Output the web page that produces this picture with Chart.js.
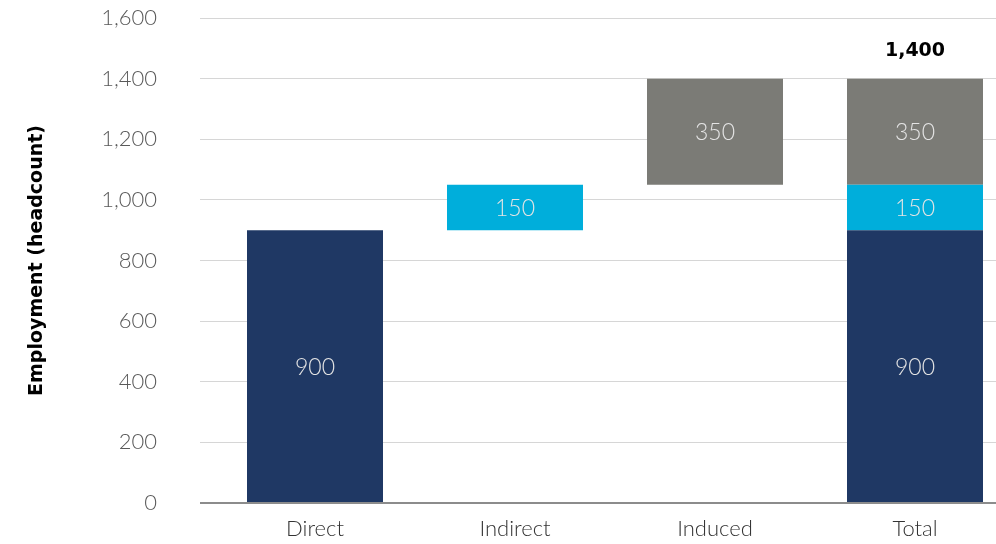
<!DOCTYPE html>
<html>
<head>
<meta charset="utf-8">
<script src="https://cdn.jsdelivr.net/npm/chart.js@4/dist/chart.umd.min.js"></script>
<style>
  html, body { margin: 0; padding: 0; background: #fff; overflow: hidden; }
  #wrap { position: absolute; left: 0; top: 0; width: 996px; height: 544px; overflow: hidden; }
  #chart { display: block; width: 1016px; height: 544px; }
</style>
</head>
<body>
<div id="wrap"><canvas id="chart" width="1016" height="544"></canvas></div>
<script>
const categories = ["Direct", "Indirect", "Induced", "Total"];
const directValue = 900;
const indirectValue = 150;
const inducedValue = 350;
const totalValue = directValue + indirectValue + inducedValue;
const yTicks = [0, 200, 400, 600, 800, 1000, 1200, 1400, 1600];

const FONT = "Lato, 'Open Sans', sans-serif";
const BOLD_FONT = "'DejaVu Sans', sans-serif";

// waterfall segments as floating bars [start, end]
const directBars = [[0, directValue], null, null, [0, directValue]];
const indirectBars = [null, [directValue, directValue + indirectValue], null, [directValue, directValue + indirectValue]];
const inducedBars = [null, null, [directValue + indirectValue, totalValue], [directValue + indirectValue, totalValue]];

function dataset(label, data, color) {
  return {
    label,
    data,
    backgroundColor: color,
    borderWidth: 0,
    barPercentage: 0.68,
    categoryPercentage: 1.0,
    skipNull: true
  };
}

const barLabels = {
  id: "barLabels",
  afterDatasetsDraw(chart) {
    const ctx = chart.ctx;
    ctx.save();
    ctx.textAlign = "center";
    ctx.textBaseline = "middle";
    ctx.font = "300 23px " + FONT;
    ctx.fillStyle = "#e4e4e4";
    chart.data.datasets.forEach((ds, i) => {
      chart.getDatasetMeta(i).data.forEach((bar, j) => {
        const v = ds.data[j];
        if (!v) return;
        const yMid = (bar.y + bar.base) / 2;
        ctx.fillText(String(v[1] - v[0]), bar.x, yMid + 1);
      });
    });
    const xs = chart.scales.x;
    const ys = chart.scales.y;
    ctx.font = "bold 19px " + BOLD_FONT;
    ctx.fillStyle = "#000";
    ctx.fillText(totalValue.toLocaleString("en-US"), xs.getPixelForValue(3), ys.getPixelForValue(totalValue) - 28);
    ctx.restore();
  }
};

new Chart(document.getElementById("chart"), {
  type: "bar",
  data: {
    labels: categories,
    datasets: [
      dataset("Direct", directBars, "#1f3864"),
      dataset("Indirect", indirectBars, "#00aedb"),
      dataset("Induced", inducedBars, "#7b7b76")
    ]
  },
  plugins: [barLabels],
  options: {
    responsive: false,
    maintainAspectRatio: false,
    animation: false,
    devicePixelRatio: 1,
    layout: { padding: { top: 18, right: 1, left: 0, bottom: 0 } },
    plugins: {
      legend: { display: false },
      tooltip: { enabled: false }
    },
    scales: {
      x: {
        stacked: true,
        afterFit(scale) { scale.height = 41; },
        grid: { display: false },
        border: { display: false },
        ticks: { color: "#333", font: { family: FONT, size: 22, weight: 300 }, padding: 5, maxRotation: 0 }
      },
      y: {
        min: 0,
        max: 1600,
        afterFit(scale) {
          scale.width = 215;
          // tick padding is horizontal here, keep it from pushing the plot down
          scale.paddingTop = 12;
          scale.paddingBottom = 12;
        },
        afterBuildTicks(scale) { scale.ticks = yTicks.map((v) => ({ value: v })); },
        grid: {
          color: (c) => (c.tick && c.tick.value === 0 ? "#8c8c8c" : "#d6d6d6"),
          lineWidth: (c) => (c.tick && c.tick.value === 0 ? 2 : 1),
          tickLength: 15
        },
        border: { display: false },
        ticks: {
          color: "#595959",
          padding: 43,
          font: { family: FONT, size: 22, weight: 300 },
          callback: (v) => Number(v).toLocaleString("en-US")
        },
        title: {
          display: true,
          text: "Employment (headcount)",
          color: "#000",
          font: { family: BOLD_FONT, size: 19, weight: "bold" },
          padding: { top: 26, bottom: 0 }
        }
      }
    }
  }
});
</script>
</body>
</html>
